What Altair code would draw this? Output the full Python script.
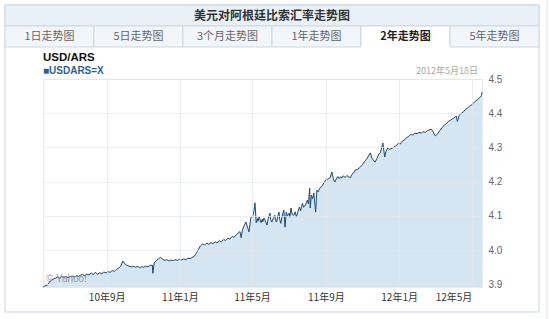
import altair as alt
import pandas as pd

# ---------------- data ----------------
dates_2010 = [
    "2010-05-18", "2010-05-21", "2010-05-25", "2010-05-28", "2010-06-01", "2010-06-04", "2010-06-08",
    "2010-06-11", "2010-06-15", "2010-06-18", "2010-06-22", "2010-06-25", "2010-06-29", "2010-07-02",
    "2010-07-06", "2010-07-09", "2010-07-13", "2010-07-16", "2010-07-20", "2010-07-23", "2010-07-27",
    "2010-07-30", "2010-08-03", "2010-08-06", "2010-08-10", "2010-08-13", "2010-08-17", "2010-08-20",
    "2010-08-24", "2010-08-27", "2010-08-31",
    "2010-09-03", "2010-09-07", "2010-09-10", "2010-09-14", "2010-09-17", "2010-09-21", "2010-09-24",
    "2010-09-28", "2010-10-01", "2010-10-05", "2010-10-08", "2010-10-12", "2010-10-15", "2010-10-19",
    "2010-10-22", "2010-10-26", "2010-10-29", "2010-11-02", "2010-11-05", "2010-11-09", "2010-11-12",
    "2010-11-16", "2010-11-17", "2010-11-19", "2010-11-23", "2010-11-26", "2010-11-30", "2010-12-03",
    "2010-12-07", "2010-12-10", "2010-12-14", "2010-12-17", "2010-12-21", "2010-12-24", "2010-12-28",
    "2010-12-31",
]
rates_2010 = [
    3.892, 3.895, 3.897, 3.905, 3.912, 3.915, 3.918,
    3.921, 3.917, 3.922, 3.920, 3.923, 3.919, 3.922,
    3.924, 3.921, 3.925, 3.923, 3.927, 3.929, 3.924,
    3.930, 3.927, 3.933, 3.928, 3.935, 3.929, 3.934,
    3.930, 3.936, 3.933,
    3.937, 3.935, 3.940, 3.938, 3.943, 3.947, 3.952,
    3.968, 3.960, 3.955, 3.953, 3.951, 3.953, 3.950,
    3.952, 3.949, 3.951, 3.950, 3.953, 3.951, 3.955,
    3.956, 3.932, 3.962, 3.970, 3.974, 3.979, 3.973,
    3.970, 3.972, 3.968, 3.971, 3.969, 3.972, 3.970,
    3.973,
]
dates_2011 = [
    "2011-01-04", "2011-01-07", "2011-01-11", "2011-01-14", "2011-01-18", "2011-01-21", "2011-01-25",
    "2011-01-28", "2011-02-01", "2011-02-04", "2011-02-08", "2011-02-11", "2011-02-15", "2011-02-18",
    "2011-02-22", "2011-02-25", "2011-03-01", "2011-03-04", "2011-03-08", "2011-03-11", "2011-03-15",
    "2011-03-18", "2011-03-22", "2011-03-25", "2011-03-29", "2011-04-01", "2011-04-05", "2011-04-08",
    "2011-04-11", "2011-04-13", "2011-04-15", "2011-04-18", "2011-04-21", "2011-04-23", "2011-04-26",
    "2011-04-29", "2011-05-02", "2011-05-04", "2011-05-06", "2011-05-08", "2011-05-10", "2011-05-11",
    "2011-05-13", "2011-05-16", "2011-05-18", "2011-05-19", "2011-05-21", "2011-05-23", "2011-05-26",
    "2011-05-28", "2011-05-31", "2011-06-01", "2011-06-03", "2011-06-06", "2011-06-08", "2011-06-09",
    "2011-06-11", "2011-06-13", "2011-06-15", "2011-06-16", "2011-06-18", "2011-06-20", "2011-06-23",
    "2011-06-25", "2011-06-27", "2011-06-29", "2011-07-02", "2011-07-03", "2011-07-05", "2011-07-07",
    "2011-07-10", "2011-07-12", "2011-07-14", "2011-07-16", "2011-07-19", "2011-07-21", "2011-07-24",
    "2011-07-26", "2011-07-29", "2011-07-31", "2011-08-01", "2011-08-03", "2011-08-05", "2011-08-06",
    "2011-08-08", "2011-08-10", "2011-08-12", "2011-08-15", "2011-08-17", "2011-08-19", "2011-08-22",
    "2011-08-24", "2011-08-27", "2011-08-29", "2011-09-01", "2011-09-05", "2011-09-08", "2011-09-11",
    "2011-09-14", "2011-09-16", "2011-09-19", "2011-09-21", "2011-09-23", "2011-09-26", "2011-09-28",
    "2011-09-30", "2011-10-03", "2011-10-06", "2011-10-09", "2011-10-12", "2011-10-15", "2011-10-18",
    "2011-10-20", "2011-10-24", "2011-10-28", "2011-11-01", "2011-11-04", "2011-11-07", "2011-11-10",
    "2011-11-14", "2011-11-17", "2011-11-22", "2011-11-25", "2011-11-28", "2011-12-01", "2011-12-05",
    "2011-12-08", "2011-12-10", "2011-12-13", "2011-12-16", "2011-12-21", "2011-12-26", "2011-12-31",
]
rates_2011 = [
    3.971, 3.974, 3.972, 3.976, 3.975, 3.978, 3.982,
    3.990, 4.002, 4.012, 4.018, 4.015, 4.020, 4.017,
    4.022, 4.019, 4.024, 4.021, 4.027, 4.024, 4.031,
    4.028, 4.035, 4.032, 4.040, 4.037, 4.045, 4.050,
    4.054, 4.036, 4.058, 4.072, 4.082, 4.070, 4.053,
    4.094, 4.100, 4.112, 4.138, 4.080, 4.092, 4.084,
    4.097, 4.080, 4.090, 4.083, 4.094, 4.086, 4.073,
    4.092, 4.108, 4.090, 4.082, 4.095, 4.102, 4.088,
    4.082, 4.100, 4.111, 4.092, 4.078, 4.098, 4.117,
    4.067, 4.111, 4.100, 4.108, 4.096, 4.123, 4.104,
    4.102, 4.112, 4.097, 4.110, 4.126, 4.115, 4.137,
    4.125, 4.132, 4.140, 4.146, 4.135, 4.181, 4.123,
    4.161, 4.150, 4.167, 4.111, 4.175, 4.170, 4.181,
    4.185, 4.190, 4.198, 4.205, 4.208, 4.211, 4.228,
    4.205, 4.199, 4.210, 4.215, 4.209, 4.214, 4.211,
    4.217, 4.212, 4.218, 4.214, 4.212, 4.222, 4.228,
    4.234, 4.236, 4.242, 4.250, 4.258, 4.264, 4.272,
    4.284, 4.268, 4.257, 4.268, 4.280, 4.286, 4.313,
    4.272, 4.288, 4.298, 4.294, 4.298, 4.304, 4.312,
]
dates_2012 = [
    "2012-01-03", "2012-01-06", "2012-01-10", "2012-01-13", "2012-01-17", "2012-01-20", "2012-01-24",
    "2012-01-27", "2012-01-31", "2012-02-03", "2012-02-07", "2012-02-10", "2012-02-14", "2012-02-17",
    "2012-02-21", "2012-02-24", "2012-02-27", "2012-02-29", "2012-03-02", "2012-03-06", "2012-03-09",
    "2012-03-13", "2012-03-16", "2012-03-20", "2012-03-23", "2012-03-27", "2012-03-30", "2012-04-03",
    "2012-04-05", "2012-04-07", "2012-04-10", "2012-04-13", "2012-04-17", "2012-04-20", "2012-04-24",
    "2012-04-27", "2012-05-01", "2012-05-04", "2012-05-08", "2012-05-11", "2012-05-15", "2012-05-17",
    "2012-05-18",
]
rates_2012 = [
    4.310, 4.318, 4.322, 4.328, 4.332, 4.338, 4.336,
    4.342, 4.340, 4.344, 4.342, 4.346, 4.344, 4.349,
    4.352, 4.353, 4.345, 4.336, 4.334, 4.342, 4.350,
    4.358, 4.365, 4.370, 4.376, 4.380, 4.384, 4.388,
    4.392, 4.376, 4.394, 4.399, 4.404, 4.410, 4.415,
    4.420, 4.425, 4.430, 4.437, 4.440, 4.447, 4.452,
    4.462,
]
y_domain = [3.892, 4.5]
y_ticks = [3.9, 4.0, 4.1, 4.2, 4.3, 4.4, 4.5]
x_tick_dates = [(2010, 9), (2011, 1), (2011, 5), (2011, 9), (2012, 1), (2012, 5)]
tab_labels = ["1日走势图", "5日走势图", "3个月走势图", "1年走势图", "2年走势图", "5年走势图"]
selected_tab = "2年走势图"
panel_title = "美元对阿根廷比索汇率走势图"
pair_title = "USD/ARS"
series_name = "■USDARS=X"
date_note = "2012年5月18日"
credit = "© Yahoo!"

df = pd.DataFrame({"date": dates_2010 + dates_2011 + dates_2012,
                   "rate": rates_2010 + rates_2011 + rates_2012})
tabs_df = pd.DataFrame({"tab": tab_labels, "selected": [t == selected_tab for t in tab_labels]})
one = pd.DataFrame({"k": [0]})

CJK = "Noto Sans CJK SC"
LAT = "Liberation Sans"
BORDER = "#cbd7e3"
GRID = "#e2e7ec"

# ---------------- decorations ----------------
frame = alt.Chart(one).mark_rect(fill="white", fillOpacity=0, stroke=BORDER, strokeWidth=1).encode(
    x=alt.value(-38), x2=alt.value(496), y=alt.value(-74), y2=alt.value(233)
)
title_bar = alt.Chart(one).mark_rect(fill="#e9f0f7", stroke=BORDER, strokeWidth=1).encode(
    x=alt.value(-38), x2=alt.value(496), y=alt.value(-74), y2=alt.value(-53)
)
title_text = alt.Chart(pd.DataFrame({"t": [panel_title]})).mark_text(
    font=CJK, fontSize=12, fontWeight="bold", color="#333333", align="center", baseline="middle"
).encode(x=alt.value(229), y=alt.value(-63), text="t:N")
page_edge = alt.Chart(one).mark_rule(color="#e2e2e2").encode(
    x=alt.value(504), y=alt.value(-79), y2=alt.value(240)
)

tab_x = alt.X("tab:N", axis=None,
              scale=alt.Scale(domain=tab_labels, range=[-38, 496], paddingInner=0, paddingOuter=0))
tabs = alt.Chart(tabs_df).mark_rect(stroke=BORDER, strokeWidth=1).encode(
    x=tab_x,
    y=alt.value(-53), y2=alt.value(-32),
    fill=alt.condition("datum.selected", alt.value("#ffffff"), alt.value("#f2f6fa")),
)
tab_text_off = alt.Chart(tabs_df).transform_filter("!datum.selected").mark_text(
    font=CJK, fontSize=11, baseline="middle", color="#666666"
).encode(x=tab_x, y=alt.value(-42), text="tab:N")
tab_text_on = alt.Chart(tabs_df).transform_filter("datum.selected").mark_text(
    font=CJK, fontSize=11, baseline="middle", color="#222222", fontWeight="bold"
).encode(x=tab_x, y=alt.value(-42), text="tab:N")
# hide the bottom border under the selected tab
sel_gap = alt.Chart(tabs_df).transform_filter("datum.selected").mark_rect(fill="#ffffff").encode(
    x=tab_x, y=alt.value(-33), y2=alt.value(-31)
)

pair_text = alt.Chart(pd.DataFrame({"t": [pair_title]})).mark_text(
    font=LAT, fontSize=11.5, fontWeight="bold", color="#111111", align="left", baseline="middle"
).encode(x=alt.value(0), y=alt.value(-21), text="t:N")
series_text = alt.Chart(pd.DataFrame({"t": [series_name]})).mark_text(
    font=LAT, fontSize=10, fontWeight="bold", color="#2f5f91", align="left", baseline="middle"
).encode(x=alt.value(0), y=alt.value(-8), text="t:N")
date_text = alt.Chart(pd.DataFrame({"t": [date_note]})).mark_text(
    font=CJK, fontSize=9, color="#a8a8a8", align="right", baseline="middle"
).encode(x=alt.value(435), y=alt.value(-8), text="t:N")
credit_text = alt.Chart(pd.DataFrame({"t": [credit]})).mark_text(
    font=LAT, fontSize=10, color="#8a8a8a", opacity=0.8, align="left", baseline="middle"
).encode(x=alt.value(3), y=alt.value(200), text="t:N")

# ---------------- data marks ----------------
x_values = [alt.DateTime(year=y, month=m, date=1, utc=True) for y, m in x_tick_dates]
area = alt.Chart(df).mark_area(
    color="#d5e5f2", opacity=1,
    line={"color": "#1e4a75", "strokeWidth": 1},
).encode(
    x=alt.X("date:T",
            scale=alt.Scale(type="utc",
                            domain=[alt.DateTime(year=2010, month=5, date=18, utc=True),
                                    alt.DateTime(year=2012, month=5, date=18, utc=True)]),
            axis=alt.Axis(values=x_values, format="%y年%-m月", title=None, ticks=False,
                          domain=False, labelFont=CJK, labelFontSize=10, labelColor="#333333",
                          labelPadding=5, labelFlush=12, grid=True, gridColor=GRID,
                          gridOpacity=0.7, zindex=1)),
    y=alt.Y("rate:Q",
            scale=alt.Scale(domain=y_domain, zero=False, nice=False),
            axis=alt.Axis(orient="right", values=y_ticks, format=".1f", title=None, ticks=False,
                          domain=False, labelFont=LAT, labelFontSize=10, labelColor="#666666",
                          labelPadding=6, grid=True, gridColor=GRID, gridOpacity=0.7, zindex=1)),
    y2=alt.datum(y_domain[0]),
)

chart = alt.layer(
    frame, title_bar, title_text, tabs, sel_gap, tab_text_off, tab_text_on, page_edge,
    area, pair_text, series_text, date_text, credit_text,
).resolve_scale(x="independent").properties(
    width=439, height=208,
    padding={"left": 43, "top": 79, "right": 68, "bottom": 32},
    autosize=alt.AutoSizeParams(type="none"),
    background="white",
).configure_view(stroke="#e6eaee")

chart.save("out.html", embed_options={"renderer": "svg", "actions": False})
